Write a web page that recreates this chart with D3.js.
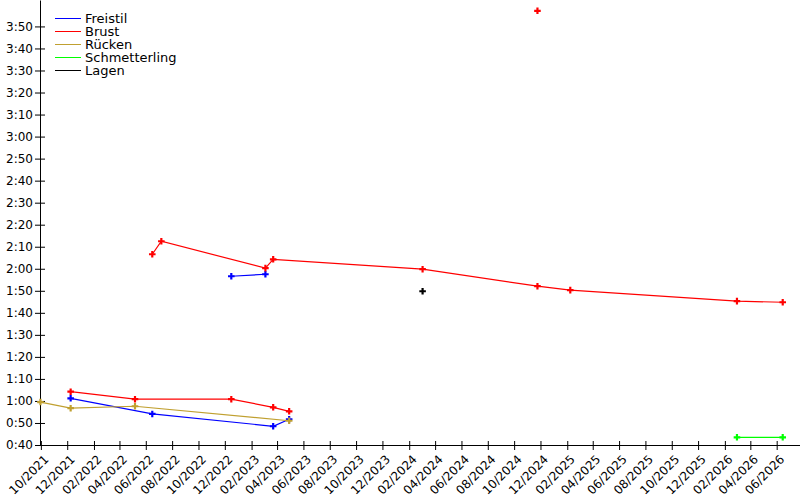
<!DOCTYPE html>
<html>
<head>
<meta charset="utf-8">
<script src="https://cdn.jsdelivr.net/npm/d3@7"></script>
<style>
  body { margin: 0; background: #fff; }
  svg { display: block; font-family: "DejaVu Sans", sans-serif; }
</style>
</head>
<body>
<svg id="chart" width="800" height="500"></svg>
<script>
// strokes and their colours
var strokes = ["Freistil", "Brust", "Rücken", "Schmetterling", "Lagen"];
var strokeColors = ["#0000ff", "#ff0000", "#c0a030", "#00ff00", "#000000"];

// each race series: dates and times in seconds
var freistil50Dates = ["2021-12-09", "2022-06-16", "2023-03-23", "2023-04-29"];
var freistil50Times = [61.2, 54.1, 48.5, 51.7];
var freistil100Dates = ["2022-12-16", "2023-03-05"];
var freistil100Times = [116.6, 117.5];
var brust50Dates = ["2021-12-09", "2022-05-07", "2022-12-16", "2023-03-23", "2023-04-29"];
var brust50Times = [64.2, 60.8, 60.8, 57.1, 55.3];
var brust100Dates = ["2022-06-16", "2022-07-07", "2023-03-05", "2023-03-23", "2024-03-03",
  "2024-11-24", "2025-02-08", "2026-03-01", "2026-06-15"];
var brust100Times = [126.6, 132.5, 120.3, 124.3, 119.8, 112.1, 110.3, 105.3, 104.8];
var brust200Dates = ["2024-11-24"];
var brust200Times = [237.1];
var ruecken50Dates = ["2021-09-30", "2021-12-09", "2022-05-07", "2023-04-29"];
var ruecken50Times = [59.5, 56.7, 57.6, 51.0];
var schmetterling50Dates = ["2026-03-01", "2026-06-15"];
var schmetterling50Times = [43.5, 43.5];
var lagen100Dates = ["2024-03-03"];
var lagen100Times = [109.8];

var xDomain = ["2021-09-29", "2026-07-25"];
var yDomain = [40, 242];

var parse = d3.timeParse("%Y-%m-%d");
function makeSeries(stroke, dates, times) {
  return { stroke: stroke, points: dates.map(function (d, i) { return { date: parse(d), time: times[i] }; }) };
}
var series = [
  makeSeries("Freistil", freistil50Dates, freistil50Times),
  makeSeries("Freistil", freistil100Dates, freistil100Times),
  makeSeries("Brust", brust50Dates, brust50Times),
  makeSeries("Brust", brust100Dates, brust100Times),
  makeSeries("Brust", brust200Dates, brust200Times),
  makeSeries("Rücken", ruecken50Dates, ruecken50Times),
  makeSeries("Schmetterling", schmetterling50Dates, schmetterling50Times),
  makeSeries("Lagen", lagen100Dates, lagen100Times)
];

var color = d3.scaleOrdinal().domain(strokes).range(strokeColors);

var margin = { left: 40, right: 0, top: 0, bottom: 55 };
var width = 800, height = 500;
var svg = d3.select("#chart");

var x = d3.scaleTime().domain(xDomain.map(parse)).range([margin.left, width - margin.right]);
var y = d3.scaleLinear().domain(yDomain).range([height - margin.bottom, margin.top]);

function fmtTime(s) {
  var m = Math.floor(s / 60), r = Math.round(s - m * 60);
  return m + ":" + (r < 10 ? "0" + r : r);
}

// x axis: every second month (even month numbers)
var evenMonths = d3.timeMonth.filter(function (d) { return d.getMonth() % 2 === 1; });
var xTicks = evenMonths.range(x.domain()[0], x.domain()[1]);
var xAxisG = svg.append("g")
  .attr("transform", "translate(0," + (height - margin.bottom) + ")")
  .call(d3.axisBottom(x).tickValues(xTicks).tickFormat(d3.timeFormat("%m/%Y"))
    .tickSizeInner(5).tickSizeOuter(0));
xAxisG.selectAll(".tick line").attr("y1", -4).attr("y2", 5);
xAxisG.selectAll(".tick text")
  .attr("font-size", 12).attr("font-family", "DejaVu Sans")
  .attr("text-anchor", "end")
  .attr("y", 0).attr("dy", 0)
  .attr("transform", "translate(8,15) rotate(-45)");

// y axis
var yTicks = d3.range(40, 231, 10);
var yAxisG = svg.append("g")
  .attr("transform", "translate(" + margin.left + ",0)")
  .call(d3.axisLeft(y).tickValues(yTicks).tickFormat(fmtTime).tickSizeInner(5).tickSizeOuter(0).tickPadding(2));
yAxisG.selectAll(".tick line").attr("x1", -5).attr("x2", 5);
yAxisG.selectAll(".tick text").attr("font-size", 12).attr("font-family", "DejaVu Sans");

// lines and markers
var line = d3.line().x(function (d) { return x(d.date); }).y(function (d) { return y(d.time); });
var plot = svg.append("g");
plot.selectAll("path.series").data(series).enter().append("path")
  .attr("class", "series")
  .attr("d", function (s) { return line(s.points); })
  .attr("fill", "none")
  .attr("stroke", function (s) { return color(s.stroke); })
  .attr("stroke-width", 1.2);

var cross = d3.symbol().type(d3.symbolCross).size(24);
series.forEach(function (s) {
  plot.selectAll(null).data(s.points).enter().append("path")
    .attr("d", cross)
    .attr("transform", function (d) { return "translate(" + x(d.date) + "," + y(d.time) + ")"; })
    .attr("fill", color(s.stroke));
});

// legend
var legend = svg.append("g").attr("transform", "translate(55,18)");
var rows = legend.selectAll("g").data(strokes).enter().append("g")
  .attr("transform", function (d, i) { return "translate(0," + (i * 13) + ")"; });
rows.append("line").attr("x1", 0).attr("x2", 26).attr("y1", 0.5).attr("y2", 0.5)
  .attr("stroke", function (d) { return color(d); });
rows.append("text").attr("x", 30).attr("y", 0).attr("dy", "0.35em")
  .attr("font-size", 13).text(function (d) { return d; });
</script>
</body>
</html>
